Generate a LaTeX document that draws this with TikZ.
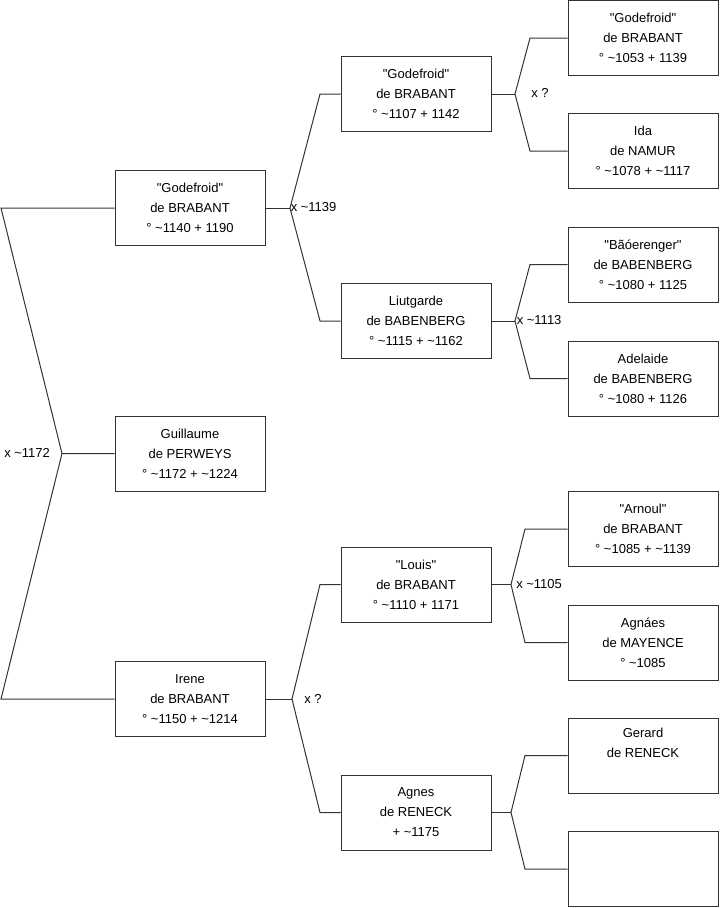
\documentclass[tikz,border=0pt]{standalone}
\usepackage{fontspec}
\setmainfont{Liberation Sans}[Ligatures=TeXOff]
\newcommand{\tld}{\textasciitilde}
\begin{document}
\begin{tikzpicture}[x=0.75pt,y=-0.75pt,
  person/.style={draw=black!80, line width=0.75pt, fill=white, minimum width=112.5pt, minimum height=56.25pt,
    inner sep=0pt, align=center, font=\fontsize{9.75}{15}\selectfont},
  link/.style={draw=black!80, line width=0.75pt},
  marr/.style={anchor=west, inner sep=0pt, font=\fontsize{9.75}{15}\selectfont}]
\useasboundingbox (0,0) rectangle (719,908);
% generation 1
\node[person] (g1a) at (190,208) {"Godefroid"\\de BRABANT\\° \tld1140 + 1190};
\node[person] (g1b) at (190,453.5) {Guillaume\\de PERWEYS\\° \tld1172 + \tld1224};
\node[person] (g1c) at (190,699) {Irene\\de BRABANT\\° \tld1150 + \tld1214};
% generation 2
\node[person] (g2a) at (416,94) {"Godefroid"\\de BRABANT\\° \tld1107 + 1142};
\node[person] (g2b) at (416,321) {Liutgarde\\de BABENBERG\\° \tld1115 + \tld1162};
\node[person] (g2c) at (416,584.5) {"Louis"\\de BRABANT\\° \tld1110 + 1171};
\node[person] (g2d) at (416,812.5) {Agnes\\de RENECK\\+ \tld1175};
% generation 3
\node[person] (g3a) at (643,38) {"Godefroid"\\de BRABANT\\° \tld1053 + 1139};
\node[person] (g3b) at (643,151) {Ida\\de NAMUR\\° \tld1078 + \tld1117};
\node[person] (g3c) at (643,264.5) {"Bãóerenger"\\de BABENBERG\\° \tld1080 + 1125};
\node[person] (g3d) at (643,378.5) {Adelaide\\de BABENBERG\\° \tld1080 + 1126};
\node[person] (g3e) at (643,529) {"Arnoul"\\de BRABANT\\° \tld1085 + \tld1139};
\node[person] (g3f) at (643,642.5) {Agnáes\\de MAYENCE\\° \tld1085};
\node[person] (g3g) at (643,755.5) {Gerard\\de RENECK\\\strut};
\node[person] (g3h) at (643,869) {};
% junction coordinates
\coordinate (j0) at (62,453.5);
\coordinate (f0) at (1,208);
\coordinate (m0) at (1,699);
\coordinate (ja) at (290,208);
\coordinate (fa) at (320,94);
\coordinate (ma) at (320,321);
\coordinate (jc) at (292,699);
\coordinate (fc) at (320,584.5);
\coordinate (mc) at (320,812.5);
\coordinate (j2a) at (515,94);
\coordinate (f2a) at (530,38);
\coordinate (m2a) at (530,151);
\coordinate (j2b) at (515,321);
\coordinate (f2b) at (530,264.5);
\coordinate (m2b) at (530,378.5);
\coordinate (j2c) at (511,584.5);
\coordinate (f2c) at (525,529);
\coordinate (m2c) at (525,642.5);
\coordinate (j2d) at (511,812.5);
\coordinate (f2d) at (525,755.5);
\coordinate (m2d) at (525,869);
% connectors
\draw[link] (g1a.west) -- (f0) -- (j0) -- (g1b.west);
\draw[link] (g1c.west) -- (m0) -- (j0);
\draw[link] (g1a.east) -- (ja);
\draw[link] (g2a.west) -- (fa) -- (ja) -- (ma) -- (g2b.west);
\draw[link] (g1c.east) -- (jc);
\draw[link] (g2c.west) -- (fc) -- (jc) -- (mc) -- (g2d.west);
\draw[link] (g2a.east) -- (j2a);
\draw[link] (g3a.west) -- (f2a) -- (j2a) -- (m2a) -- (g3b.west);
\draw[link] (g2b.east) -- (j2b);
\draw[link] (g3c.west) -- (f2b) -- (j2b) -- (m2b) -- (g3d.west);
\draw[link] (g2c.east) -- (j2c);
\draw[link] (g3e.west) -- (f2c) -- (j2c) -- (m2c) -- (g3f.west);
\draw[link] (g2d.east) -- (j2d);
\draw[link] (g3g.west) -- (f2d) -- (j2d) -- (m2d) -- (g3h.west);
% marriage labels
\node[marr] (l0) at (4,452.5) {x \tld1172};
\node[marr] (la) at (290.5,207.5) {x \tld1139};
\node[marr] (lc) at (304,698.5) {x ?};
\node[marr] (l2a) at (531,92.5) {x ?};
\node[marr] (l2b) at (516.5,320.5) {x \tld1113};
\node[marr] (l2c) at (516,584.5) {x \tld1105};
\end{tikzpicture}
\end{document}
